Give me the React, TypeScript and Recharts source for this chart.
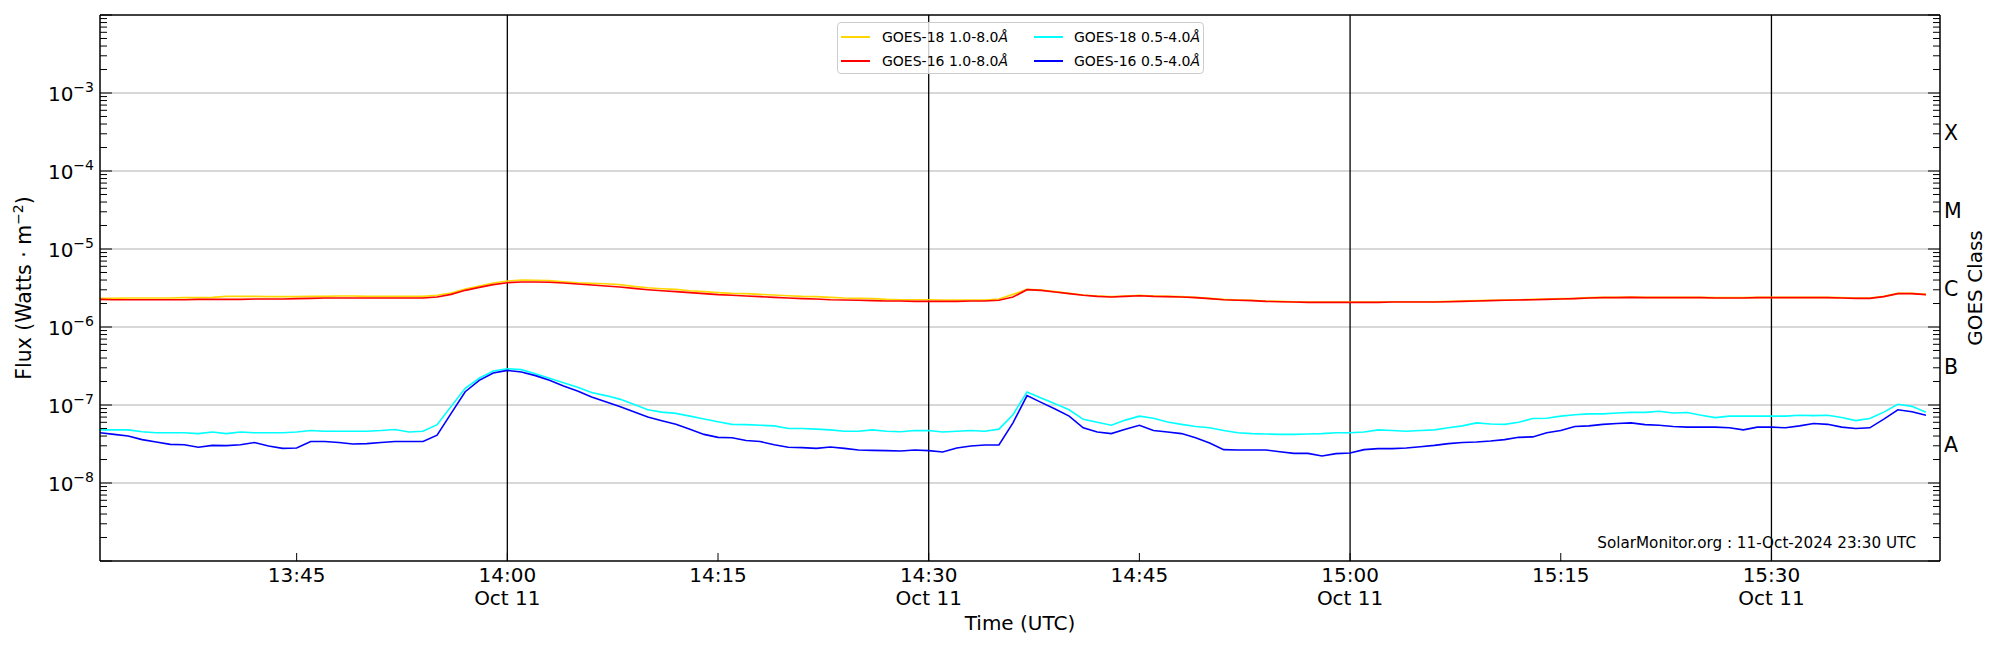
import React from "react";
import { LineChart, Line, XAxis, YAxis, ReferenceLine, Legend } from "recharts";

const FONT = "DejaVu Sans, Liberation Sans, sans-serif";

// one sample per minute, the first one at 13:31 UTC
const DAY = [2024, 9, 11];
const START = "13:31";
const END = "15:42";
const STEP_MS = 60 * 1000;

const LONG_UNIT = 1e-6;
const SHORT_UNIT = 1e-8;

// GOES-18 1.0-8.0 A (x 1e-6 W/m2)
const G18_LONG = [
  2.33, 2.33, 2.35, 2.35, 2.35, 2.35, 2.38, 2.38, 2.4, 2.47,
  2.47, 2.47, 2.45, 2.45, 2.45, 2.47, 2.47, 2.5, 2.5, 2.47,
  2.47, 2.47, 2.47, 2.47, 2.55, 2.73, 3.07, 3.36, 3.67, 3.89,
  4.0, 3.97, 3.93,
  3.81, 3.7, 3.63, 3.59, 3.49, 3.32, 3.19, 3.1, 3.04, 2.92,
  2.84, 2.76, 2.7, 2.68, 2.62, 2.57, 2.52, 2.47, 2.45, 2.4,
  2.35, 2.33, 2.31, 2.26, 2.24, 2.24, 2.24, 2.22, 2.22, 2.22,
  2.22, 2.29, 2.62,
  3.04, 2.98, 2.84, 2.7, 2.57, 2.5, 2.45, 2.5, 2.55, 2.5,
  2.47, 2.45, 2.4, 2.33, 2.26, 2.22, 2.2, 2.15, 2.13, 2.11,
  2.09, 2.09, 2.09, 2.09, 2.09, 2.09, 2.11, 2.11, 2.11, 2.11,
  2.13, 2.15, 2.18,
  2.2, 2.22, 2.24, 2.26, 2.29, 2.31, 2.33, 2.38, 2.4, 2.4,
  2.42, 2.4, 2.4, 2.4, 2.4, 2.4, 2.38, 2.38, 2.38, 2.4,
  2.4, 2.4, 2.4, 2.4, 2.4, 2.38, 2.35, 2.35, 2.47, 2.7,
  2.7, 2.62,
];

// GOES-16 1.0-8.0 A (x 1e-6 W/m2)
const G16_LONG = [
  2.26, 2.24, 2.24, 2.24, 2.24, 2.24, 2.24, 2.26, 2.26, 2.26,
  2.26, 2.29, 2.29, 2.29, 2.31, 2.33, 2.35, 2.35, 2.35, 2.35,
  2.35, 2.35, 2.35, 2.35, 2.42, 2.62, 2.95, 3.22, 3.49, 3.7,
  3.78, 3.78, 3.74,
  3.67, 3.56, 3.46, 3.36, 3.26, 3.13, 3.01, 2.92, 2.84, 2.76,
  2.68, 2.6, 2.55, 2.5, 2.45, 2.4, 2.35, 2.31, 2.29, 2.24,
  2.22, 2.2, 2.18, 2.15, 2.15, 2.13, 2.13, 2.13, 2.13, 2.15,
  2.15, 2.2, 2.42,
  3.01, 2.95, 2.81, 2.68, 2.55, 2.47, 2.42, 2.47, 2.52, 2.47,
  2.45, 2.42, 2.38, 2.31, 2.24, 2.2, 2.18, 2.13, 2.11, 2.09,
  2.07, 2.07, 2.07, 2.07, 2.07, 2.07, 2.09, 2.09, 2.09, 2.09,
  2.11, 2.13, 2.15,
  2.18, 2.2, 2.22, 2.24, 2.26, 2.29, 2.31, 2.35, 2.38, 2.38,
  2.4, 2.38, 2.38, 2.38, 2.38, 2.38, 2.35, 2.35, 2.35, 2.38,
  2.38, 2.38, 2.38, 2.38, 2.38, 2.35, 2.33, 2.33, 2.45, 2.68,
  2.68, 2.6,
];

// GOES-18 0.5-4.0 A (x 1e-8 W/m2)
const G18_SHORT = [
  4.8, 4.8, 4.8, 4.55, 4.4, 4.4, 4.4, 4.3, 4.5, 4.3,
  4.5, 4.4, 4.4, 4.4, 4.5, 4.7, 4.6, 4.6, 4.6, 4.6,
  4.7, 4.85, 4.5, 4.6, 5.6, 9.6, 16.4, 22.0, 27.3, 29.2,
  28.4, 25.2, 22.0,
  19.3, 16.9, 14.5, 13.2, 11.9, 10.2, 8.7, 8.1, 7.8, 7.2,
  6.6, 6.1, 5.65, 5.6, 5.5, 5.4, 5.0, 5.0, 4.9, 4.8,
  4.6, 4.6, 4.8, 4.6, 4.55, 4.7, 4.7, 4.5, 4.6, 4.7,
  4.6, 4.9, 7.5,
  14.7, 12.3, 10.4, 8.7, 6.55, 6.0, 5.5, 6.4, 7.2, 6.75,
  6.05, 5.65, 5.3, 5.1, 4.7, 4.4, 4.3, 4.25, 4.2, 4.2,
  4.25, 4.3, 4.4, 4.4, 4.5, 4.8, 4.7, 4.6, 4.7, 4.8,
  5.1, 5.4, 5.9,
  5.7, 5.65, 6.0, 6.7, 6.75, 7.2, 7.5, 7.7, 7.7, 7.9,
  8.05, 8.05, 8.3, 7.9, 8.0, 7.4, 6.9, 7.2, 7.2, 7.2,
  7.2, 7.2, 7.4, 7.3, 7.4, 6.9, 6.3, 6.7, 8.1, 10.2,
  9.6, 8.1,
];

// GOES-16 0.5-4.0 A (x 1e-8 W/m2)
const G16_SHORT = [
  4.4, 4.2, 4.0, 3.6, 3.35, 3.13, 3.1, 2.87, 3.04, 3.01,
  3.1, 3.3, 2.98, 2.78, 2.81, 3.4, 3.4, 3.3, 3.16, 3.2,
  3.3, 3.4, 3.4, 3.4, 4.1, 7.8, 14.8, 20.7, 25.7, 27.8,
  26.5, 23.8, 20.7,
  17.5, 15.1, 12.7, 11.0, 9.6, 8.2, 7.0, 6.3, 5.65, 4.9,
  4.2, 3.85, 3.8, 3.5, 3.4, 3.1, 2.87, 2.84, 2.78, 2.9,
  2.78, 2.65, 2.62, 2.6, 2.57, 2.65, 2.6, 2.5, 2.81, 2.98,
  3.07, 3.07, 5.9,
  13.2, 10.8, 8.9, 7.2, 5.1, 4.5, 4.3, 4.9, 5.5, 4.7,
  4.5, 4.3, 3.8, 3.25, 2.68, 2.65, 2.65, 2.65, 2.52, 2.4,
  2.4, 2.22, 2.38, 2.42, 2.68, 2.76, 2.76, 2.81, 2.92, 3.04,
  3.2, 3.3, 3.35,
  3.45, 3.6, 3.85, 3.9, 4.4, 4.7, 5.3, 5.4, 5.65, 5.8,
  5.9, 5.6, 5.5, 5.3, 5.2, 5.2, 5.2, 5.1, 4.8, 5.2,
  5.2, 5.1, 5.4, 5.8, 5.65, 5.2, 5.0, 5.1, 6.6, 8.7,
  8.2, 7.4,
];

const SERIES = [
  { key: "g18l", name: "GOES-18 1.0-8.0Å", color: "#FFD700" },
  { key: "g16l", name: "GOES-16 1.0-8.0Å", color: "#FF0000" },
  { key: "g18s", name: "GOES-18 0.5-4.0Å", color: "#00FFFF" },
  { key: "g16s", name: "GOES-16 0.5-4.0Å", color: "#0000FF" },
];

const TIME_TICKS = ["13:45", "14:00", "14:15", "14:30", "14:45", "15:00", "15:15", "15:30"];
const DATE_TICKS = ["14:00", "14:30", "15:00", "15:30"];
const DATE_LABEL = "Oct 11";

const Y_MIN = 1e-9;
const Y_MAX = 1e-2;
const DECADES = [1e-8, 1e-7, 1e-6, 1e-5, 1e-4, 1e-3];
const CLASS_LEVELS = [3.16e-8, 3.16e-7, 3.16e-6, 3.16e-5, 3.16e-4];
const CLASS_LABELS = ["A", "B", "C", "M", "X"];

const CREDIT = "SolarMonitor.org : 11-Oct-2024 23:30 UTC";

const toTime = (hhmm: string) => {
  const [h, m] = hhmm.split(":").map(Number);
  return Date.UTC(DAY[0], DAY[1], DAY[2], h, m);
};

const fmtTime = (t: number) => {
  const d = new Date(t);
  const pad = (n: number) => String(n).padStart(2, "0");
  return `${pad(d.getUTCHours())}:${pad(d.getUTCMinutes())}`;
};

const t0 = toTime(START);
const data = G18_LONG.map((v, i) => ({
  t: t0 + i * STEP_MS,
  g18l: v * LONG_UNIT,
  g16l: G16_LONG[i] * LONG_UNIT,
  g18s: G18_SHORT[i] * SHORT_UNIT,
  g16s: G16_SHORT[i] * SHORT_UNIT,
}));

// log minor ticks 1..9 x 10^n
const LOG_TICKS: number[] = [];
for (let e = -9; e <= -2; e++) {
  for (let k = 1; k <= 9; k++) {
    const v = k * Math.pow(10, e);
    if (v <= Y_MAX * 1.0001) LOG_TICKS.push(v);
  }
}
const isDecade = (v: number) => {
  const l = Math.log10(v);
  return Math.abs(l - Math.round(l)) < 1e-6;
};

function FluxTick(props: any) {
  const { x, y, payload } = props;
  const v = payload.value;
  const major = isDecade(v);
  const labelled = major && DECADES.some((d) => Math.abs(d - v) / d < 1e-6);
  const exp = Math.round(Math.log10(v));
  return (
    <g>
      <line x1={x} x2={x + (major ? 12 : 7)} y1={y} y2={y} stroke="#000" strokeWidth={1} />
      {labelled && (
        <text x={x - 6} y={y + 8} textAnchor="end" fontSize={20} fontFamily={FONT} fill="#000">
          10
          <tspan dy={-9} fontSize={14}>
            {"\u2212" + Math.abs(exp)}
          </tspan>
        </text>
      )}
    </g>
  );
}

function ClassTick(props: any) {
  const { x, y, payload } = props;
  const v = payload.value;
  const idx = CLASS_LEVELS.indexOf(v);
  if (idx >= 0) {
    return (
      <text x={x + 4} y={y + 8} fontSize={20.5} fontFamily={FONT} fill="#000">
        {CLASS_LABELS[idx]}
      </text>
    );
  }
  const major = isDecade(v);
  return <line x1={x} x2={x - (major ? 12 : 7)} y1={y} y2={y} stroke="#000" strokeWidth={1} />;
}

function TimeTick(props: any) {
  const { x, y, payload } = props;
  const label = fmtTime(payload.value);
  return (
    <g>
      <line x1={x} x2={x} y1={y} y2={y - 8} stroke="#000" strokeWidth={1} />
      <text x={x} y={y + 21} textAnchor="middle" fontSize={20} fontFamily={FONT} fill="#000">
        {label}
      </text>
      {DATE_TICKS.includes(label) && (
        <text x={x} y={y + 44} textAnchor="middle" fontSize={20} fontFamily={FONT} fill="#000">
          {DATE_LABEL}
        </text>
      )}
    </g>
  );
}

const fluxLabel = (props: any) => {
  const vb = props.viewBox ?? { x: 0, y: 15, width: 100, height: 546 };
  const cx = vb.x + 31;
  const cy = vb.y + vb.height / 2;
  return (
    <text
      x={cx}
      y={cy}
      transform={`rotate(-90 ${cx} ${cy})`}
      textAnchor="middle"
      fontSize={20.5}
      fontFamily={FONT}
      fill="#000"
    >
      Flux (Watts · m
      <tspan dy={-8} fontSize={14}>
        −2
      </tspan>
      <tspan dy={8}>)</tspan>
    </text>
  );
};

const classLabel = (props: any) => {
  const vb = props.viewBox ?? { x: 1940, y: 15, width: 60, height: 546 };
  const cx = vb.x + 42;
  const cy = vb.y + vb.height / 2;
  return (
    <text
      x={cx}
      y={cy}
      transform={`rotate(-90 ${cx} ${cy})`}
      textAnchor="middle"
      fontSize={20}
      fontFamily={FONT}
      fill="#000"
    >
      GOES Class
    </text>
  );
};

const timeLabel = (props: any) => {
  const vb = props.viewBox ?? { x: 100, y: 561, width: 1840, height: 89 };
  return (
    <text
      x={vb.x + vb.width / 2}
      y={vb.y + 69}
      textAnchor="middle"
      fontSize={20}
      fontFamily={FONT}
      fill="#000"
    >
      Time (UTC)
    </text>
  );
};

function renderLegend(props: any) {
  const payload = props.payload ?? [];
  return (
    <div
      style={{
        position: "relative",
        width: 367,
        height: 52,
        boxSizing: "border-box",
        border: "1px solid #cccccc",
        borderRadius: 4,
        background: "rgba(255,255,255,0.8)",
        fontFamily: FONT,
      }}
    >
      {payload.map((entry: any) => {
        const i = SERIES.findIndex((s) => s.name === entry.value);
        if (i < 0) return null;
        const col = Math.floor(i / 2);
        const row = i % 2;
        const rowY = row === 0 ? 14 : 37.5;
        const name = SERIES[i].name;
        return (
          <React.Fragment key={name}>
            <div
              style={{
                position: "absolute",
                left: col === 0 ? 3 : 196,
                top: Math.round(rowY) - 1,
                width: 29,
                height: 2,
                background: SERIES[i].color,
              }}
            />
            <div
              style={{
                position: "absolute",
                left: col === 0 ? 44 : 236,
                top: rowY - 7,
                fontSize: 14,
                lineHeight: "14px",
                whiteSpace: "nowrap",
                color: "#000",
              }}
            >
              {name.slice(0, -1)}
              <i>{name.slice(-1)}</i>
            </div>
          </React.Fragment>
        );
      })}
    </div>
  );
}

export default function App() {
  return (
    <div style={{ position: "absolute", left: 0, top: 0, width: 2000, height: 650, background: "#fff" }}>
      <LineChart width={2000} height={650} data={data} margin={{ top: 15, right: 0, bottom: 0, left: 0 }}>
        <XAxis
          dataKey="t"
          type="number"
          domain={[toTime(START), toTime(END)]}
          allowDataOverflow
          ticks={TIME_TICKS.map(toTime)}
          interval={0}
          height={89}
          tickSize={0}
          tickMargin={0}
          tick={<TimeTick />}
          tickLine={false}
          axisLine={{ stroke: "#000", strokeWidth: 1.5 }}
          label={timeLabel}
        />
        <YAxis
          yAxisId="flux"
          orientation="left"
          scale="log"
          domain={[Y_MIN, Y_MAX]}
          allowDataOverflow
          ticks={LOG_TICKS}
          interval={0}
          width={100}
          tickSize={0}
          tickMargin={0}
          tick={<FluxTick />}
          tickLine={false}
          axisLine={{ stroke: "#000", strokeWidth: 1.5 }}
          label={fluxLabel}
        />
        <YAxis
          yAxisId="cls"
          orientation="right"
          scale="log"
          domain={[Y_MIN, Y_MAX]}
          allowDataOverflow
          ticks={[...LOG_TICKS, ...CLASS_LEVELS]}
          interval={0}
          width={60}
          tickSize={0}
          tickMargin={0}
          tick={<ClassTick />}
          tickLine={false}
          axisLine={{ stroke: "#000", strokeWidth: 1.5 }}
          label={classLabel}
        />
        {DECADES.map((d) => (
          <ReferenceLine key={"h" + d} yAxisId="flux" y={d} stroke="#b0b0b0" strokeWidth={1} />
        ))}
        {DATE_TICKS.map((s) => (
          <ReferenceLine key={"v" + s} yAxisId="flux" x={toTime(s)} stroke="#000" strokeWidth={1.3} />
        ))}
        <ReferenceLine yAxisId="flux" y={Y_MAX} stroke="#000" strokeWidth={1.5} />
        {SERIES.map((s) => (
          <Line
            key={s.key}
            yAxisId="flux"
            type="linear"
            dataKey={s.key}
            name={s.name}
            stroke={s.color}
            strokeWidth={1.6}
            dot={false}
            activeDot={false}
            isAnimationActive={false}
          />
        ))}
        <Legend
          layout="horizontal"
          verticalAlign="middle"
          align="center"
          content={renderLegend}
          wrapperStyle={{ position: "absolute", left: 837, top: 22, width: 367, height: 52, margin: 0 }}
        />
      </LineChart>
      <div
        style={{
          position: "absolute",
          right: 84,
          top: 536,
          fontSize: 15.2,
          lineHeight: "15px",
          fontFamily: FONT,
          whiteSpace: "nowrap",
          color: "#000",
        }}
      >
        {CREDIT}
      </div>
    </div>
  );
}
